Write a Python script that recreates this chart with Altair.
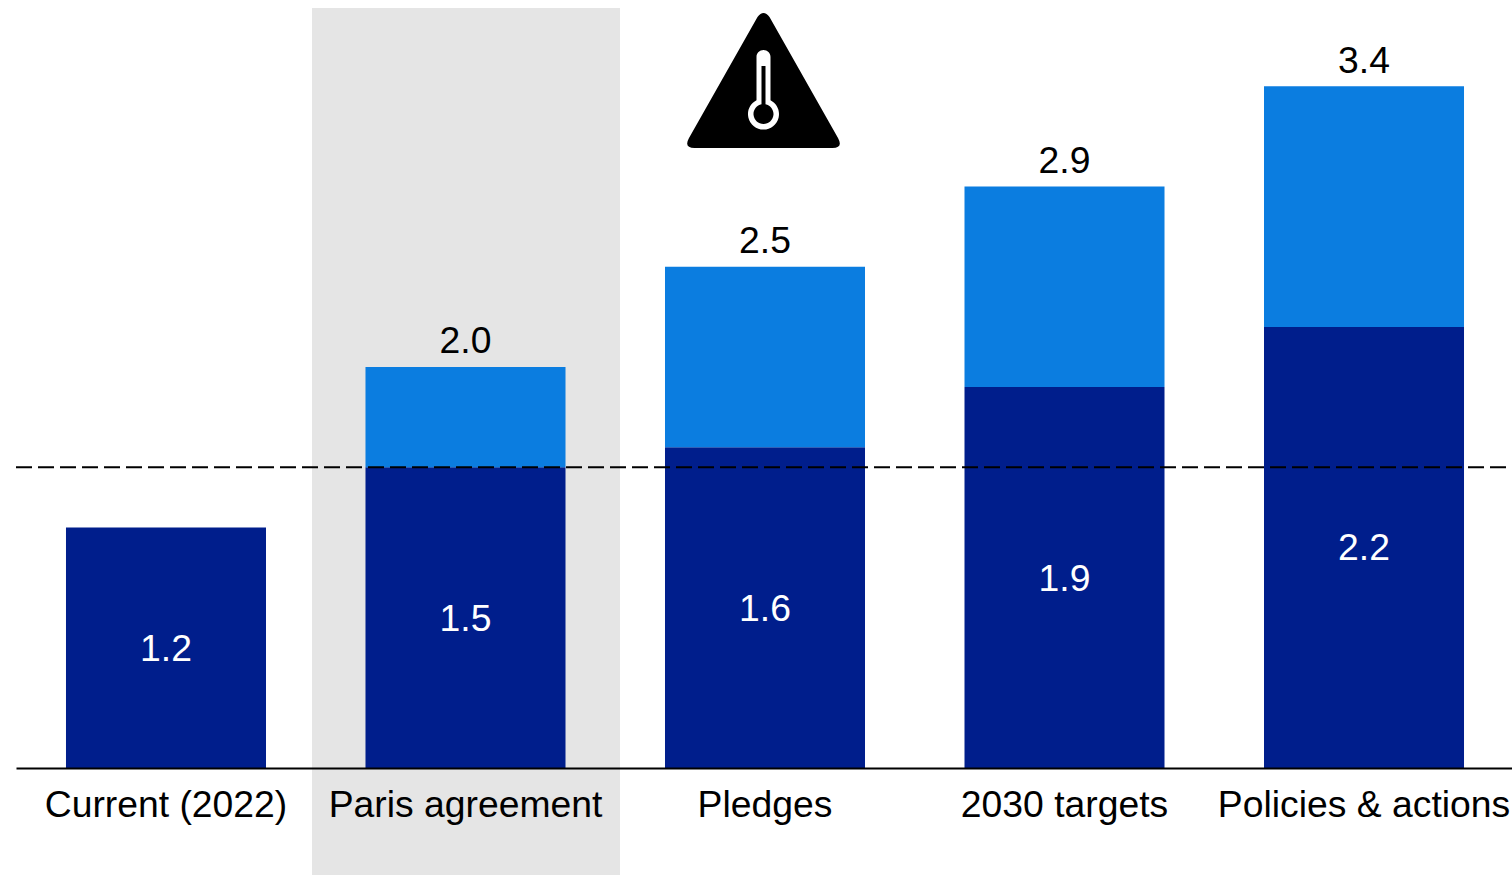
import altair as alt
import pandas as pd

scenarios = ["Current (2022)", "Paris agreement", "Pledges", "2030 targets", "Policies & actions"]
lower_values = [1.2, 1.5, 1.6, 1.9, 2.2]
upper_values = [None, 2.0, 2.5, 2.9, 3.4]
highlighted = ["Paris agreement"]
threshold = [1.5]

FONT = "Liberation Sans"
FONT_SIZE = 37.3
DARK = "#001E8C"
LIGHT = "#0B7DE0"
GREY = "#E5E5E5"

# Warning triangle with a thermometer cut out of it; the winding of each
# sub-path decides what stays filled.
ICON = (
    "M-.06,-.63 Q0,-.71 .06,-.63 L.745,.58 Q.80,.68 .69,.68 L-.69,.68 Q-.80,.68 -.745,.58 Z "
    "M-.07,-.23 L-.07,.202 A.155,.155 0 1 0 .07,.202 L.07,-.23 A.07,.07 0 0 0 -.07,-.23 Z "
    "M-.02,-.14 L.02,-.14 L.02,.242 A.10,.10 0 1 1 -.02,.242 Z"
)

df = pd.DataFrame({"scenario": scenarios, "lower": lower_values, "upper": upper_values})
x_scale = alt.Scale(domain=scenarios, range=[16, 1514], paddingInner=0.3322, paddingOuter=0.1669)
y_scale = alt.Scale(domain=[0, 768 / 200.5], nice=False, clamp=False)
x = alt.X(
    "scenario:N",
    scale=x_scale,
    sort=scenarios,
    axis=alt.Axis(
        title=None, labelAngle=0, ticks=False, domainColor="black", domainWidth=2,
        labelFont=FONT, labelFontSize=FONT_SIZE, labelColor="black", labelPadding=19,
        labelLimit=400, grid=False, zindex=1,
    ),
)
y = alt.Y("lower:Q", scale=y_scale, axis=None)

band = (
    alt.Chart(pd.DataFrame({"scenario": highlighted, "top": [3.79], "bottom": [-0.534]}))
    .mark_bar(color=GREY, width=308, xOffset=0.5)
    .encode(x=x, y=alt.Y("top:Q", scale=y_scale, axis=None), y2="bottom:Q")
)
lower = alt.Chart(df).mark_bar(color=DARK).encode(x=x, y=y, y2=alt.Y2(datum=0))
upper = (
    alt.Chart(df.dropna())
    .mark_bar(color=LIGHT)
    .encode(x=x, y=alt.Y("upper:Q", scale=y_scale, axis=None), y2="lower:Q")
)
rule = (
    alt.Chart(pd.DataFrame({"level": threshold}))
    .mark_rule(color="black", strokeWidth=2, strokeDash=[16, 6])
    .encode(y=alt.Y("level:Q", scale=y_scale, axis=None), x=alt.value(16), x2=alt.value(1512))
)
lower_text = (
    alt.Chart(df.assign(mid=df["lower"] / 2))
    .mark_text(color="white", font=FONT, fontSize=FONT_SIZE, baseline="middle", dy=2)
    .encode(x=x, y=alt.Y("mid:Q", scale=y_scale, axis=None), text=alt.Text("lower:Q", format=".1f"))
)
upper_text = (
    alt.Chart(df.dropna())
    .mark_text(color="black", font=FONT, fontSize=FONT_SIZE, baseline="middle", dy=-24.6)
    .encode(x=x, y=alt.Y("upper:Q", scale=y_scale, axis=None), text=alt.Text("upper:Q", format=".1f"))
)
icon = (
    alt.Chart(pd.DataFrame({"scenario": ["Pledges"]}))
    .mark_point(shape=ICON, filled=True, color="black", opacity=1, strokeWidth=0, size=40000, xOffset=-1.5)
    .encode(x=x, y=alt.value(80))
)

chart = (
    alt.layer(band, lower, upper, rule, lower_text, upper_text, icon)
    .properties(
        width=1512,
        height=768,
        background="white",
        padding={"left": 0, "top": 0, "right": 0, "bottom": 107},
        autosize=alt.AutoSizeParams(type="none"),
    )
    .configure_view(stroke=None)
)
chart.save("out.html", embed_options={"renderer": "svg", "actions": False})
